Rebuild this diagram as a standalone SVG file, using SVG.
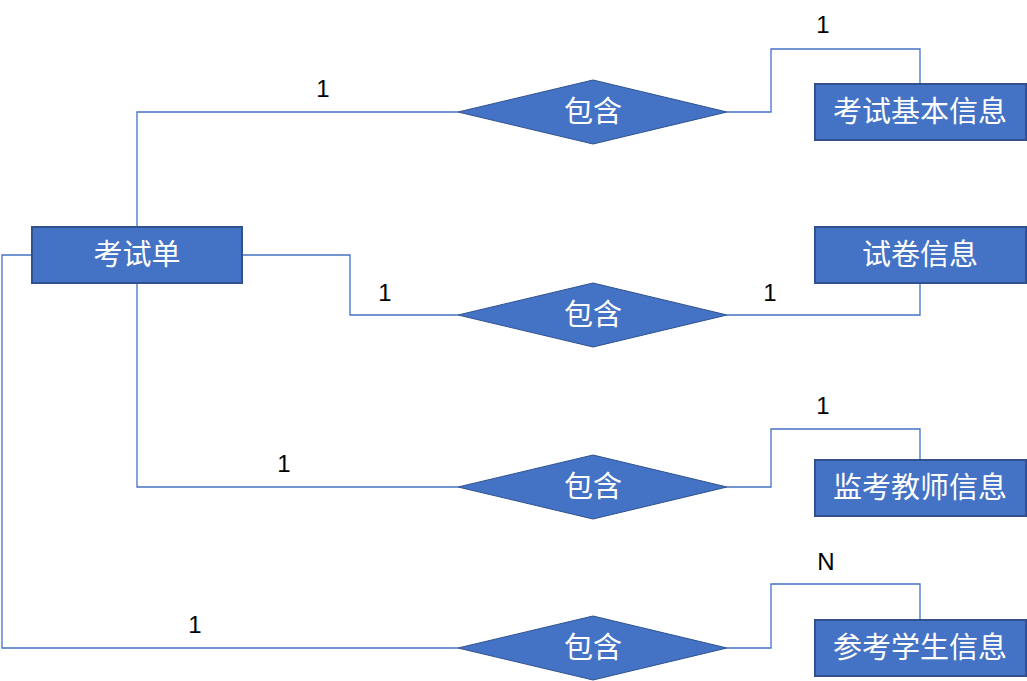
<svg xmlns="http://www.w3.org/2000/svg" width="1027" height="681" viewBox="0 0 1027 681">
<style>
.box{fill:#4472C4;stroke:#2F528F;stroke-width:2}
.dia{fill:#4472C4;stroke:#2F528F;stroke-width:1}
.t{fill:#fff;font-family:"Noto Sans CJK SC","Noto Sans",sans-serif;font-size:29px;text-anchor:middle;dominant-baseline:central}
.lbl{fill:#000;font-family:"Liberation Sans","DejaVu Sans",sans-serif;font-size:24px;text-anchor:middle}
.c{fill:none;stroke:#4472C4;stroke-width:1.3}
</style>
<rect width="1027" height="681" fill="#fff"/>
<g id="connectors">
<polyline class="c" points="137,227 137,112 458,112"/>
<polyline class="c" points="242,255 350,255 350,315 458,315"/>
<polyline class="c" points="137,283 137,487 458,487"/>
<polyline class="c" points="32,255 2,255 2,648 458,648"/>
<polyline class="c" points="727,112 771,112 771,49 920,49 920,83"/>
<polyline class="c" points="727,315 920,315 920,283"/>
<polyline class="c" points="727,487 771,487 771,429 920,429 920,460"/>
<polyline class="c" points="727,648 771,648 771,584 920,584 920,619"/>
</g>
<g id="labels">
<text class="lbl" x="323" y="97">1</text>
<text class="lbl" x="823" y="33">1</text>
<text class="lbl" x="385" y="301">1</text>
<text class="lbl" x="770" y="301">1</text>
<text class="lbl" x="284" y="472">1</text>
<text class="lbl" x="823" y="414">1</text>
<text class="lbl" x="195" y="633">1</text>
<text class="lbl" x="826" y="570">N</text>
</g>
<g id="n_kaoshidan"><rect class="box" x="32" y="227" width="210" height="56"/><text class="t" x="137" y="252">考试单</text></g>
<g id="d1"><polygon class="dia" points="458,112 593,80 727,112 593,144"/><text class="t" x="593" y="109">包含</text></g>
<g id="d2"><polygon class="dia" points="458,315 593,283 727,315 593,347"/><text class="t" x="593" y="312">包含</text></g>
<g id="d3"><polygon class="dia" points="458,487 593,455 727,487 593,519"/><text class="t" x="593" y="484">包含</text></g>
<g id="d4"><polygon class="dia" points="458,648 593,616 727,648 593,680"/><text class="t" x="593" y="645">包含</text></g>
<g id="n_basic"><rect class="box" x="815" y="84" width="211" height="56"/><text class="t" x="920" y="109">考试基本信息</text></g>
<g id="n_paper"><rect class="box" x="815" y="227" width="211" height="56"/><text class="t" x="920" y="252">试卷信息</text></g>
<g id="n_teacher"><rect class="box" x="815" y="460" width="211" height="56"/><text class="t" x="920" y="485">监考教师信息</text></g>
<g id="n_student"><rect class="box" x="815" y="620" width="211" height="56"/><text class="t" x="920" y="645">参考学生信息</text></g>
</svg>
